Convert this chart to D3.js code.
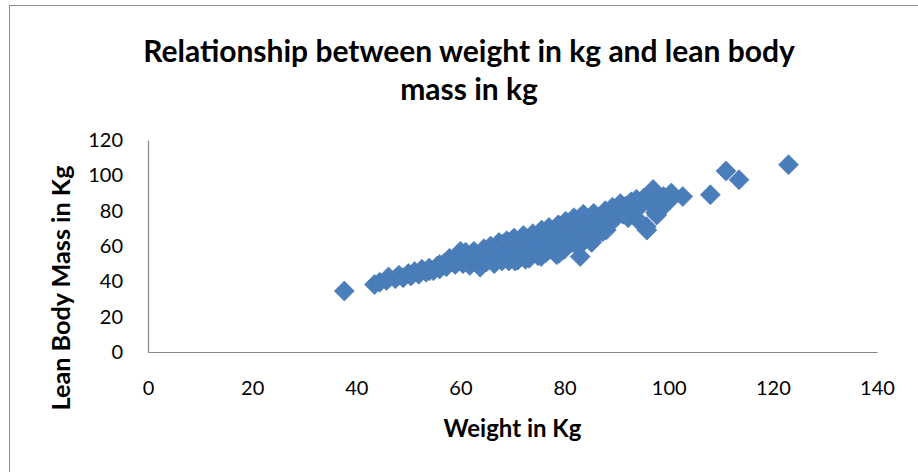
<!DOCTYPE html>
<html>
<head>
<meta charset="utf-8">
<script src="https://cdn.jsdelivr.net/npm/d3@7"></script>
<style>
  body { margin: 0; background: #fff; }
  text { font-family: Lato, "Open Sans", sans-serif; fill: #000; }
</style>
</head>
<body>
<div id="chart"></div>
<script>
// titles
var titleLines = ["Relationship between weight in kg and lean body", "mass in kg"];
var xTitle = "Weight in Kg";
var yTitle = "Lean Body Mass in Kg";

// tick labels
var xTicks = [0, 20, 40, 60, 80, 100, 120, 140];
var yTicks = [0, 20, 40, 60, 80, 100, 120];

// series (weight kg, lean mass kg)
var weightKg = [37.7, 43.5, 44.5, 45.8, 46.2, 47.5, 48.2, 49, 50, 50.5, 51.2, 52, 52.6, 53.4, 54, 54, 54.8, 55.5, 56, 56,
  56.8, 57.3, 57.9, 58, 58.5, 59, 59, 59.6, 60, 60.2, 60.5, 61, 61, 61.4, 61.8, 62, 62.3, 62.6, 63, 63,
  63.2, 63.8, 64, 64, 64.5, 65, 65, 65.3, 65.8, 66, 66, 66.2, 66.5, 67, 67, 67.4, 67.8, 68, 68.2, 68.5,
  68.9, 69, 69.3, 69.6, 70, 70, 70, 70.3, 70.7, 71, 71, 71.4, 71.8, 72, 72, 72.1, 72.5, 72.8, 73, 73.2,
  73.5, 73.9, 74, 74, 74.2, 74.5, 74.9, 75, 75.2, 75.6, 76, 76, 76, 76.3, 76.5, 77, 77, 77.4, 77.8, 78,
  78, 78.1, 78.5, 78.8, 79, 79.2, 79.5, 79.9, 80, 80, 80.2, 80.6, 81, 81, 81.4, 81.8, 82, 82, 82.2, 82.6,
  83, 83.2, 83.6, 84, 84, 84, 84.4, 84.8, 85.2, 85.6, 86, 86, 86, 86.4, 86.9, 87.3, 87.8, 88, 88, 88.2,
  88.7, 89.2, 89.7, 90.2, 90.7, 91.2, 91.7, 92.2, 92.8, 93.3, 93.8, 94.3, 94.7, 95.2, 95.7, 95.8, 96.5, 97, 97.5, 97.7,
  98, 98.5, 99, 100.2, 100.5, 102.7, 108, 111, 113.5, 123,
  68, 70.5, 72.5, 75.5, 79];
var leanMassKg = [34.5, 38.2, 39.5, 40.5, 42.5, 41.5, 43.5, 42, 44.5, 43, 45.5, 44, 46.8, 45.2, 47.5, 46, 46, 48.5, 47, 49.5,
  50, 48.2, 53, 52, 51, 49.5, 51, 55, 57, 52.5, 50, 56.5, 51.5, 54, 49, 53, 52, 57, 55, 52.5,
  50.5, 48, 53, 56, 58.5, 51, 53, 56, 60, 58, 53, 54, 50, 57.5, 55, 62, 52.5, 61, 59, 55,
  63, 54, 51.5, 57, 60.5, 56, 58, 64.5, 54, 52, 60.5, 58, 62.5, 63, 55, 66, 56, 60, 58, 53,
  63.5, 67, 65, 59, 57.5, 61, 54.5, 60, 65, 69, 59, 67, 64, 62.5, 56.5, 70.5, 58, 66, 60.5, 69,
  61, 64, 55, 72, 66, 68, 61.5, 58, 71, 63, 74, 65.5, 70, 68, 62, 76, 73, 65, 67.5, 59.5,
  54, 72.5, 78, 64, 73, 67, 69, 75, 62, 78.5, 72, 74, 70, 67, 76.5, 68, 80, 78, 69, 74,
  77.5, 82, 75.5, 80.5, 84, 78, 82.5, 76, 85, 80, 86.5, 74, 83, 87, 71, 69, 84, 92, 79, 77.5,
  86, 81, 88, 86, 90, 88, 89, 102.5, 97.5, 106,
  51.5, 51.5, 52.5, 54, 56];

var points = weightKg.map(function(w, i) { return { w: w, m: leanMassKg[i] }; });

var width = 918, height = 472;
var plot = { left: 148, right: 877, top: 140, bottom: 352 };

var svg = d3.select("#chart").append("svg")
  .attr("width", width)
  .attr("height", height);

// chart frame (runs off the right and bottom edges)
svg.append("rect")
  .attr("x", 9.5).attr("y", 5.5)
  .attr("width", 1000).attr("height", 600)
  .attr("fill", "none")
  .attr("stroke", "#8c8c8c")
  .attr("stroke-width", 1);

var x = d3.scaleLinear().domain([0, 140]).range([plot.left, plot.right]);
var y = d3.scaleLinear().domain([0, 120]).range([plot.bottom, plot.top]);

// axes
var xAxis = svg.append("g")
  .attr("transform", "translate(0," + plot.bottom + ")")
  .call(d3.axisBottom(x).tickValues(xTicks).tickSize(0).tickPadding(29));
var yAxis = svg.append("g")
  .attr("transform", "translate(" + plot.left + ",0)")
  .call(d3.axisLeft(y).tickValues(yTicks).tickSize(0).tickPadding(25));

[xAxis, yAxis].forEach(function(g) {
  g.select(".domain").attr("stroke", "#868686").attr("stroke-width", 1.2);
  g.selectAll("text")
   .style("font-family", "Lato, sans-serif")
   .style("font-size", "20px")
   .attr("fill", "#000");
});

// points
var diamond = d3.symbol().type(d3.symbolSquare).size(200);
svg.append("g").selectAll("path")
  .data(points)
  .enter()
  .append("path")
  .attr("d", diamond)
  .attr("transform", function(d) {
    return "translate(" + x(d.w) + "," + y(d.m) + ") rotate(45)";
  })
  .attr("fill", "#4a7ebb")
  .attr("stroke", "#4677b4")
  .attr("stroke-width", 0.6);

// fits a text element to a width
function fitWidth(sel, target) {
  var w = sel.node().getComputedTextLength();
  var fs = parseFloat(sel.style("font-size"));
  sel.style("font-size", (fs * target / w) + "px");
}

// title
var t1 = svg.append("text")
  .attr("x", 469).attr("y", 62)
  .attr("text-anchor", "middle")
  .style("font-weight", "bold")
  .style("font-size", "24px")
  .text(titleLines[0]);
fitWidth(t1, 652);
svg.append("text")
  .attr("x", 469).attr("y", 100)
  .attr("text-anchor", "middle")
  .style("font-weight", "bold")
  .style("font-size", t1.style("font-size"))
  .text(titleLines[1]);

// axis titles
var xt = svg.append("text")
  .attr("x", (plot.left + plot.right) / 2).attr("y", 437)
  .attr("text-anchor", "middle")
  .style("font-weight", "bold")
  .style("font-size", "18px")
  .text(xTitle);
fitWidth(xt, 138);

var yt = svg.append("text")
  .attr("transform", "translate(70,288) rotate(-90)")
  .attr("text-anchor", "middle")
  .style("font-weight", "bold")
  .style("font-size", "18px")
  .text(yTitle);
fitWidth(yt, 245);
</script>
</body>
</html>
